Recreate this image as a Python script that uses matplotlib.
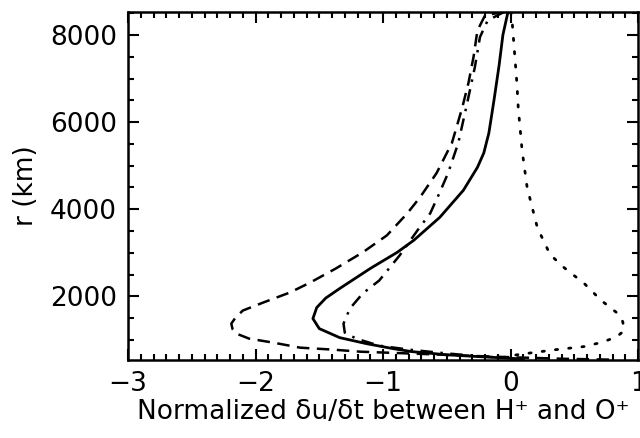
import matplotlib
matplotlib.use("Agg")
import matplotlib.pyplot as plt
from matplotlib.ticker import MultipleLocator

# solid curve
r_solid = [8530, 8000, 7300, 6500, 5750, 5290, 4960, 4435, 3814, 3285, 3009,
           2641, 2181, 1960, 1744, 1491, 1261, 1054, 916, 801, 735, 660, 617,
           580, 545]
x_solid = [-0.02, -0.06, -0.09, -0.13, -0.17, -0.21, -0.26, -0.37, -0.555,
           -0.76, -0.89, -1.10, -1.34, -1.45, -1.52, -1.55, -1.50, -1.34,
           -1.13, -0.92, -0.78, -0.50, -0.24, 0.0, 0.10]

# dashed curve
r_dash = [8530, 8450, 8100, 7500, 6900, 6320, 5520, 4830, 4274, 3906, 3400,
          3009, 2641, 2320, 2090, 1859, 1675, 1500, 1376, 1250, 1146, 1031,
          939, 824, 778, 732, 709, 670, 630, 600, 570, 548]
x_dash = [-0.05, -0.20, -0.26, -0.29, -0.33, -0.38, -0.46, -0.58, -0.71, -0.81,
          -0.97, -1.16, -1.37, -1.57, -1.73, -1.94, -2.10, -2.16, -2.19, -2.18,
          -2.15, -2.05, -1.86, -1.65, -1.39, -1.18, -0.97, -0.60, -0.25, 0.05,
          0.40, 0.80]

# dash-dot curve
r_dd = [8530, 8330, 7950, 7260, 6440, 5520, 4830, 4389, 3906, 3515, 2940,
        2365, 2066, 1721, 1376, 1169, 1031, 870, 780, 700, 630, 580, 548]
x_dd = [-0.05, -0.18, -0.24, -0.28, -0.34, -0.41, -0.49, -0.555, -0.63, -0.73,
        -0.87, -1.03, -1.16, -1.26, -1.31, -1.30, -1.21, -1.03, -0.80, -0.53,
        -0.26, 0.0, 0.15]

# dotted curve
r_dot = [8530, 8400, 7640, 6880, 6340, 5360, 4500, 3580, 2960, 2660, 2290,
         1910, 1610, 1420, 1210, 1070, 950, 850, 780, 700, 640, 580, 545]
x_dot = [0.0, 0.01, 0.03, 0.05, 0.06, 0.09, 0.13, 0.21, 0.31, 0.42, 0.58,
         0.71, 0.84, 0.88, 0.89, 0.83, 0.72, 0.58, 0.36, 0.15, 0.0, -0.08,
         -0.10]

plt.rcParams['font.family'] = ['DejaVu Sans']
fig = plt.figure(figsize=(6.4, 4.38), dpi=100)
ax = fig.add_axes([0.2, 0.178, 0.797, 0.795])

ax.plot(x_solid, r_solid, color='black', lw=2.0, ls='-')
ax.plot(x_dash, r_dash, color='black', lw=1.8, ls=(0, (5, 3)))
ax.plot(x_dd, r_dd, color='black', lw=1.8, ls=(0, (5, 3, 1, 3)))
ax.plot(x_dot, r_dot, color='black', lw=2.0, ls=(0, (0.8, 4)),
        dash_capstyle='round')

ax.set_xlim(-3, 1)
ax.set_ylim(540, 8530)
ax.xaxis.set_major_locator(MultipleLocator(1))
ax.xaxis.set_minor_locator(MultipleLocator(0.1))
ax.yaxis.set_major_locator(MultipleLocator(2000))
ax.yaxis.set_minor_locator(MultipleLocator(500))
ax.tick_params(which='both', direction='in', top=True, right=True,
               width=1.5, labelsize=19, pad=8)
ax.tick_params(which='major', length=8)
ax.tick_params(which='minor', length=4)
for s in ax.spines.values():
    s.set_linewidth(1.8)

ax.set_xlabel("Normalized δu/δt between H⁺ and O⁺", fontsize=19, labelpad=1)
ax.set_ylabel("r (km)", fontsize=19, labelpad=8)

fig.savefig("out.png", dpi=100)
